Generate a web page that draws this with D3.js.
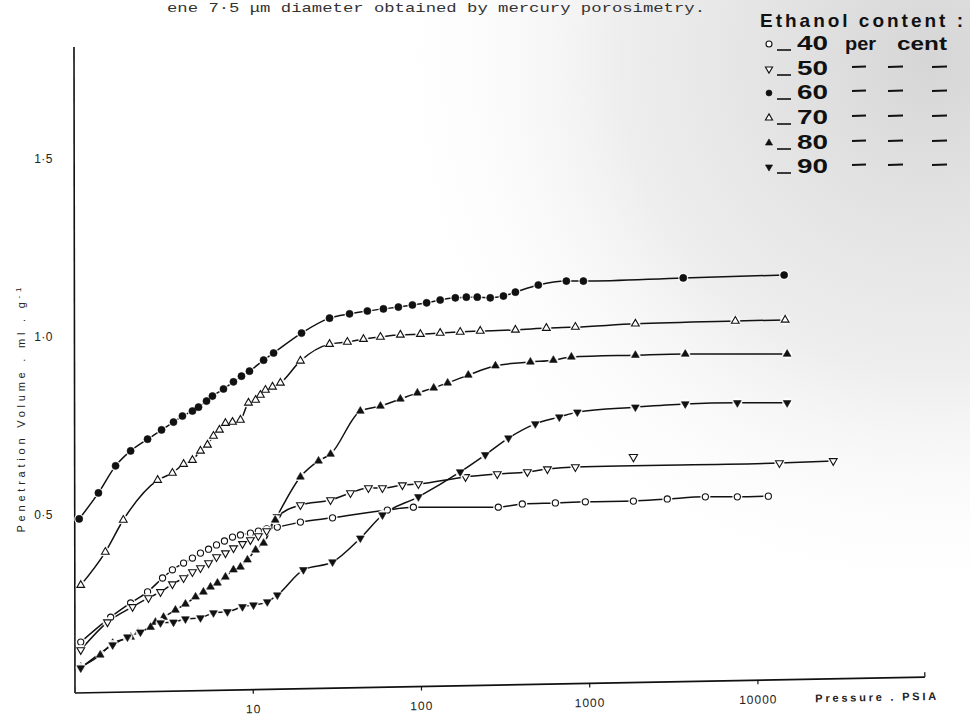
<!DOCTYPE html>
<html><head><meta charset="utf-8">
<script src="https://cdn.jsdelivr.net/npm/d3@7"></script>
<style>body{margin:0;background:#fff}svg{display:block}</style>
</head><body>
<svg id="c" width="970" height="723"></svg>
<script>
// ---------- data ----------
const xTicks = [10, 100, 1000, 10000];
const xTickLabels = ["10", "100", "1000", "10000"];
const yTicks = [0.5, 1.0, 1.5];
const yTickLabels = ["0·5", "1·0", "1·5"];
const legendTitle = "Ethanol content :";
const legendLabels = ["40", "50", "60", "70", "80", "90"];

const press40 = [0.95,1.43,1.88,2.37,2.91,3.33,3.88,4.38,4.89,5.46,6.09,6.79,7.58,8.45,9.69,10.8,12.1,14.0,19.2,29.8,63.1,90.1,288,400,629,948,1830,2910,4900,7590,11600];
const vol40   = [0.143,0.213,0.253,0.284,0.323,0.346,0.365,0.379,0.393,0.404,0.416,0.427,0.438,0.444,0.449,0.455,0.461,0.466,0.480,0.492,0.514,0.522,0.522,0.531,0.534,0.537,0.539,0.545,0.551,0.551,0.553];

const press50 = [0.95,1.37,1.93,2.40,2.83,3.33,3.88,4.38,4.89,5.46,6.09,6.88,7.68,8.69,9.69,10.8,12.1,14.0,19.2,29.0,38.1,48.7,59.0,77.5,96.5,184,284,429,564,827,13500,28200];
const vol50   = [0.121,0.199,0.242,0.267,0.284,0.306,0.323,0.340,0.351,0.365,0.382,0.393,0.407,0.419,0.430,0.441,0.455,0.494,0.528,0.542,0.562,0.576,0.576,0.584,0.587,0.607,0.615,0.621,0.629,0.635,0.646,0.652];
const strayPress50 = [1830];
const strayVol50   = [0.663];

const press60 = [0.93,1.21,1.53,1.88,2.37,2.87,3.38,3.82,4.38,4.76,5.31,5.76,6.70,7.68,8.57,9.56,11.6,13.3,19.5,28.6,37.6,48.0,59.8,73.4,88.9,108,130,160,186,216,258,309,364,498,731,923,3620,14400];
const vol60   = [0.489,0.562,0.638,0.680,0.713,0.739,0.761,0.778,0.792,0.803,0.820,0.834,0.854,0.874,0.890,0.904,0.935,0.955,1.011,1.053,1.065,1.073,1.079,1.084,1.090,1.096,1.104,1.110,1.112,1.112,1.110,1.115,1.126,1.146,1.157,1.157,1.166,1.174];

const press70 = [0.95,1.33,1.70,2.72,3.33,3.88,4.38,4.89,5.38,5.84,6.34,6.88,7.58,8.45,9.43,10.4,11.1,11.9,13.1,14.6,19.2,28.6,36.5,45.5,57.4,75.4,99.2,130,171,225,364,556,827,1880,7380,14600];
const vol70   = [0.303,0.396,0.486,0.598,0.618,0.643,0.654,0.680,0.697,0.722,0.739,0.758,0.761,0.767,0.815,0.823,0.837,0.851,0.860,0.871,0.933,0.980,0.986,0.994,1.000,1.006,1.008,1.011,1.014,1.017,1.020,1.025,1.028,1.037,1.045,1.048];

const press80 = [0.95,1.24,1.47,1.88,2.09,2.47,2.64,2.95,3.47,3.98,4.57,5.09,5.61,6.17,6.88,7.68,8.45,9.30,10.4,11.6,13.6,19.2,24.6,29.0,43.6,57.4,75.4,95.2,119,144,191,277,447,612,783,1880,3720,15000];
const vol80   = [0.073,0.107,0.140,0.157,0.171,0.185,0.199,0.213,0.233,0.250,0.270,0.284,0.298,0.309,0.326,0.346,0.354,0.374,0.402,0.421,0.486,0.607,0.652,0.671,0.792,0.806,0.826,0.843,0.857,0.871,0.893,0.919,0.930,0.935,0.944,0.949,0.952,0.952];

const press90 = [0.95,1.47,1.80,2.15,2.83,3.38,3.98,4.89,5.84,7.07,8.69,10.1,12.2,14.0,20.0,29.8,43.6,59.0,96.5,171,241,331,478,664,850,1880,3720,7590,15000];
const vol90   = [0.070,0.135,0.157,0.171,0.197,0.199,0.208,0.211,0.225,0.228,0.242,0.247,0.256,0.275,0.346,0.368,0.435,0.500,0.551,0.621,0.669,0.716,0.756,0.775,0.789,0.803,0.812,0.815,0.815];

const series = [
  {p: press40, v: vol40, shape: "circle", filled: false},
  {p: press50, v: vol50, shape: "down",   filled: false},
  {p: press60, v: vol60, shape: "circle", filled: true},
  {p: press70, v: vol70, shape: "up",     filled: false},
  {p: press80, v: vol80, shape: "up",     filled: true},
  {p: press90, v: vol90, shape: "down",   filled: true}
];

// ---------- layout ----------
const svg = d3.select("#c");
const x = d3.scaleLog().domain([1, 10000]).range([84.5, 757.5]);
const y = d3.scaleLinear().domain([0.5, 1.0]).range([515, 337]);
const axisX0 = 75, axisBottom = 693, axisTop = 47, axisRight = 925;

// scan-like grey background
const defs = svg.append("defs");
const rg = defs.append("radialGradient").attr("id", "scan")
  .attr("cx", 930).attr("cy", 60).attr("r", 560).attr("gradientUnits", "userSpaceOnUse");
rg.append("stop").attr("offset", "0").attr("stop-color", "#c8c8c8").attr("stop-opacity", 0.75);
rg.append("stop").attr("offset", "0.55").attr("stop-color", "#d8d8d8").attr("stop-opacity", 0.45);
rg.append("stop").attr("offset", "1").attr("stop-color", "#ffffff").attr("stop-opacity", 0);
svg.append("rect").attr("width", 970).attr("height", 723).attr("fill", "url(#scan)");

// caption
svg.append("text").attr("x", 167).attr("y", 12)
  .attr("font-family", "Liberation Mono, DejaVu Sans Mono, monospace")
  .attr("font-size", 13).attr("fill", "#333")
  .attr("textLength", 538).attr("lengthAdjust", "spacingAndGlyphs")
  .text("ene  7·5 μm diameter obtained by mercury porosimetry.");

// y axis
svg.append("line").attr("x1", axisX0 - 1).attr("y1", axisTop).attr("x2", axisX0).attr("y2", axisBottom)
  .attr("stroke", "#111").attr("stroke-width", 1.6);
svg.selectAll(".ytl").data(yTicks).enter().append("text")
  .attr("x", 53).attr("y", d => y(d) + 4)
  .attr("text-anchor", "end").attr("font-family", "Liberation Sans, Arial, sans-serif")
  .attr("font-size", 12).attr("fill", "#222").attr("letter-spacing", 0.5)
  .text((d, i) => yTickLabels[i]);
svg.append("text")
  .attr("transform", "translate(25,410) rotate(-90)")
  .attr("text-anchor", "middle").attr("font-family", "Liberation Sans, Arial, sans-serif")
  .attr("font-size", 11).attr("fill", "#222")
  .attr("textLength", 245).attr("lengthAdjust", "spacing")
  .html("Penetration  Volume  .  ml . g<tspan dy='-4' font-size='8'>-1</tspan>");

// x axis (slightly tilted like the scan)
const gx = svg.append("g").attr("transform", `translate(0,${axisBottom}) rotate(-1.07,${axisX0},0)`);
gx.append("line").attr("x1", axisX0).attr("x2", axisRight).attr("y1", 0).attr("y2", 0)
  .attr("stroke", "#111").attr("stroke-width", 1.6);
gx.append("line").attr("x1", axisRight).attr("x2", axisRight).attr("y1", 0).attr("y2", -5)
  .attr("stroke", "#111").attr("stroke-width", 1.2);
const ax = d3.axisBottom(x).tickValues(xTicks).tickFormat((d, i) => xTickLabels[i]).tickSize(4).tickPadding(11);
const axg = gx.append("g").call(ax);
axg.select(".domain").remove();
axg.selectAll("line").attr("stroke", "#111").attr("stroke-width", 1.2);
axg.selectAll("text").attr("font-family", "Liberation Sans, Arial, sans-serif")
  .attr("font-size", 12).attr("fill", "#222").attr("letter-spacing", 1);
gx.append("text").attr("x", 815).attr("y", 23)
  .attr("font-family", "Liberation Sans, Arial, sans-serif").attr("font-weight", "bold")
  .attr("font-size", 11).attr("fill", "#222")
  .attr("textLength", 121).attr("lengthAdjust", "spacing")
  .text("Pressure . PSIA");

// ---------- series ----------
function symPath(shape, size) {
  if (shape === "circle") return d3.symbol(d3.symbolCircle, size)();
  return d3.symbol(d3.symbolTriangle, size)();
}
function drawMarker(g, shape, filled, cx, cy, size) {
  const rot = shape === "down" ? 180 : 0;
  g.append("path").attr("d", symPath(shape, size))
    .attr("transform", `translate(${cx},${cy}) rotate(${rot})`)
    .attr("fill", filled ? "#111" : "#fff")
    .attr("stroke", "#111").attr("stroke-width", filled ? 0.6 : 1.1);
}

const line = d3.line().x(d => x(d[0])).y(d => y(d[1])).curve(d3.curveMonotoneX);
const plot = svg.append("g");
series.forEach(s => {
  const pts = s.p.map((p, i) => [p, s.v[i]]);
  plot.append("path").datum(pts).attr("d", line)
    .attr("fill", "none").attr("stroke", "#111").attr("stroke-width", 1.5);
});
series.forEach(s => {
  const g = plot.append("g");
  s.p.forEach((p, i) => {
    g.append("circle").attr("cx", x(p)).attr("cy", y(s.v[i])).attr("r", 5).attr("fill", "#fff").attr("opacity", 0.9);
  });
  s.p.forEach((p, i) => {
    const size = s.shape === "circle" ? (s.filled ? 40 : 30) : 26;
    drawMarker(g, s.shape, s.filled, x(p), y(s.v[i]), size);
  });
});
strayPress50.forEach((p, i) => drawMarker(plot, "down", false, x(p), y(strayVol50[i]), 30));

// ---------- legend ----------
const lg = svg.append("g").attr("font-family", "Liberation Sans, Arial, sans-serif").attr("fill", "#111");
lg.append("text").attr("x", 760).attr("y", 27).attr("font-size", 19).attr("font-weight", "bold")
  .attr("textLength", 203).attr("lengthAdjust", "spacing").text(legendTitle);
const rowY = [42, 67, 91, 116, 141, 165];
legendLabels.forEach((lab, i) => {
  const cy = rowY[i];
  const s = series[i];
  drawMarker(lg, s.shape, s.filled, 769, cy + 2, s.shape === "circle" ? 28 : 22);
  lg.append("line").attr("x1", 777).attr("x2", 791).attr("y1", cy + 8).attr("y2", cy + 8)
    .attr("stroke", "#111").attr("stroke-width", 1.6);
  lg.append("text").attr("x", 797).attr("y", cy + 8).attr("font-size", 20).attr("font-weight", "bold")
    .attr("textLength", 31).attr("lengthAdjust", "spacingAndGlyphs").text(lab);
  if (i === 0) {
    lg.append("text").attr("x", 845).attr("y", cy + 8).attr("font-size", 19).attr("font-weight", "bold")
      .attr("textLength", 31).attr("lengthAdjust", "spacingAndGlyphs").text("per");
    lg.append("text").attr("x", 897).attr("y", cy + 8).attr("font-size", 19).attr("font-weight", "bold")
      .attr("textLength", 50).attr("lengthAdjust", "spacingAndGlyphs").text("cent");
  } else {
    [[852, 866], [888, 903], [932, 947]].forEach(([a, b]) => {
      lg.append("line").attr("x1", a).attr("x2", b).attr("y1", cy).attr("y2", cy - 0.5)
        .attr("stroke", "#111").attr("stroke-width", 1.8);
    });
  }
});
</script>
</body></html>
